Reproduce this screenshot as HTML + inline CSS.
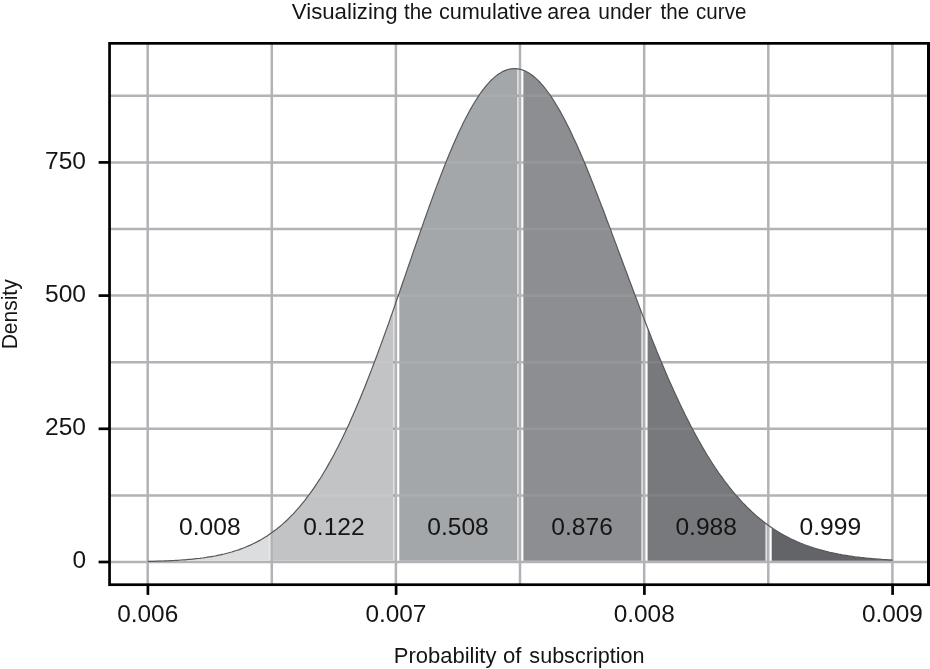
<!DOCTYPE html>
<html><head><meta charset="utf-8"><title>Cumulative area under the curve</title>
<style>
html,body{margin:0;padding:0;background:#fff;}
body{width:930px;height:669px;overflow:hidden;}
svg{display:block;}
text{font-family:"Liberation Sans",sans-serif;fill:#151515;}
</style></head><body>
<svg width="930" height="669" viewBox="0 0 930 669">
<defs><clipPath id="area"><path d="M147.7 560.7 L147.7 561.4 L150.2 561.4 L152.7 561.3 L155.2 561.3 L157.7 561.2 L160.2 561.1 L162.6 561.0 L165.1 560.9 L167.6 560.8 L170.1 560.7 L172.6 560.6 L175.1 560.4 L177.6 560.3 L180.1 560.1 L182.6 559.9 L185.1 559.8 L187.6 559.5 L190.0 559.3 L192.5 559.1 L195.0 558.8 L197.5 558.6 L200.0 558.3 L202.5 557.9 L205.0 557.6 L207.5 557.2 L210.0 556.8 L212.5 556.4 L214.9 556.0 L217.4 555.5 L219.9 555.0 L222.4 554.4 L224.9 553.8 L227.4 553.2 L229.9 552.5 L232.4 551.8 L234.9 551.0 L237.4 550.2 L239.9 549.3 L242.3 548.4 L244.8 547.5 L247.3 546.4 L249.8 545.3 L252.3 544.2 L254.8 543.0 L257.3 541.7 L259.8 540.3 L262.3 538.9 L264.8 537.4 L267.3 535.8 L269.7 534.1 L272.2 532.4 L274.7 530.6 L277.2 528.6 L279.7 526.6 L282.2 524.5 L284.7 522.3 L287.2 519.9 L289.7 517.5 L292.2 515.0 L294.6 512.3 L297.1 509.6 L299.6 506.7 L302.1 503.7 L304.6 500.6 L307.1 497.4 L309.6 494.1 L312.1 490.6 L314.6 487.0 L317.1 483.3 L319.6 479.4 L322.0 475.5 L324.5 471.3 L327.0 467.1 L329.5 462.7 L332.0 458.2 L334.5 453.6 L337.0 448.8 L339.5 443.9 L342.0 438.9 L344.5 433.7 L347.0 428.4 L349.4 423.0 L351.9 417.4 L354.4 411.8 L356.9 406.0 L359.4 400.1 L361.9 394.0 L364.4 387.9 L366.9 381.7 L369.4 375.3 L371.9 368.9 L374.3 362.3 L376.8 355.7 L379.3 349.0 L381.8 342.2 L384.3 335.3 L386.8 328.3 L389.3 321.3 L391.8 314.3 L394.3 307.2 L396.8 300.0 L399.3 292.8 L401.7 285.6 L404.2 278.4 L406.7 271.1 L409.2 263.9 L411.7 256.6 L414.2 249.4 L416.7 242.2 L419.2 235.0 L421.7 227.9 L424.2 220.8 L426.7 213.8 L429.1 206.8 L431.6 199.9 L434.1 193.1 L436.6 186.4 L439.1 179.8 L441.6 173.4 L444.1 167.0 L446.6 160.8 L449.1 154.7 L451.6 148.7 L454.0 142.9 L456.5 137.3 L459.0 131.9 L461.5 126.6 L464.0 121.5 L466.5 116.7 L469.0 112.0 L471.5 107.5 L474.0 103.3 L476.5 99.2 L479.0 95.4 L481.4 91.9 L483.9 88.6 L486.4 85.5 L488.9 82.6 L491.4 80.1 L493.9 77.7 L496.4 75.7 L498.9 73.9 L501.4 72.3 L503.9 71.0 L506.4 70.0 L508.8 69.3 L511.3 68.8 L513.8 68.6 L516.3 68.7 L518.8 69.0 L521.3 69.6 L523.8 70.5 L526.3 71.6 L528.8 73.0 L531.3 74.6 L533.7 76.5 L536.2 78.7 L538.7 81.1 L541.2 83.7 L543.7 86.6 L546.2 89.8 L548.7 93.1 L551.2 96.7 L553.7 100.5 L556.2 104.5 L558.7 108.7 L561.1 113.2 L563.6 117.8 L566.1 122.6 L568.6 127.5 L571.1 132.6 L573.6 137.9 L576.1 143.4 L578.6 149.0 L581.1 154.7 L583.6 160.5 L586.1 166.5 L588.5 172.6 L591.0 178.7 L593.5 185.0 L596.0 191.4 L598.5 197.8 L601.0 204.3 L603.5 210.8 L606.0 217.4 L608.5 224.0 L611.0 230.6 L613.4 237.3 L615.9 244.0 L618.4 250.7 L620.9 257.4 L623.4 264.1 L625.9 270.8 L628.4 277.5 L630.9 284.2 L633.4 290.9 L635.9 297.5 L638.4 304.0 L640.8 310.6 L643.3 317.1 L645.8 323.5 L648.3 329.9 L650.8 336.2 L653.3 342.4 L655.8 348.6 L658.3 354.7 L660.8 360.7 L663.3 366.6 L665.8 372.5 L668.2 378.2 L670.7 383.9 L673.2 389.5 L675.7 394.9 L678.2 400.3 L680.7 405.6 L683.2 410.7 L685.7 415.8 L688.2 420.8 L690.7 425.6 L693.1 430.4 L695.6 435.0 L698.1 439.5 L700.6 443.9 L703.1 448.3 L705.6 452.5 L708.1 456.6 L710.6 460.5 L713.1 464.4 L715.6 468.2 L718.1 471.9 L720.5 475.4 L723.0 478.9 L725.5 482.2 L728.0 485.5 L730.5 488.6 L733.0 491.7 L735.5 494.7 L738.0 497.5 L740.5 500.3 L743.0 502.9 L745.5 505.5 L747.9 508.0 L750.4 510.4 L752.9 512.7 L755.4 515.0 L757.9 517.1 L760.4 519.2 L762.9 521.2 L765.4 523.1 L767.9 524.9 L770.4 526.7 L772.8 528.4 L775.3 530.0 L777.8 531.6 L780.3 533.1 L782.8 534.5 L785.3 535.9 L787.8 537.2 L790.3 538.5 L792.8 539.7 L795.3 540.9 L797.8 542.0 L800.2 543.0 L802.7 544.0 L805.2 545.0 L807.7 545.9 L810.2 546.8 L812.7 547.6 L815.2 548.4 L817.7 549.1 L820.2 549.8 L822.7 550.5 L825.2 551.2 L827.6 551.8 L830.1 552.4 L832.6 552.9 L835.1 553.4 L837.6 553.9 L840.1 554.4 L842.6 554.9 L845.1 555.3 L847.6 555.7 L850.1 556.1 L852.5 556.4 L855.0 556.8 L857.5 557.1 L860.0 557.4 L862.5 557.7 L865.0 557.9 L867.5 558.2 L870.0 558.4 L872.5 558.7 L875.0 558.9 L877.5 559.1 L879.9 559.3 L882.4 559.4 L884.9 559.6 L887.4 559.8 L889.9 559.9 L892.4 560.0 L892.4 560.7 Z"/></clipPath></defs>
<rect width="930" height="669" fill="#fff"/>
<g stroke="#b2b3b6" stroke-width="2.5">
<line x1="147.7" y1="44" x2="147.7" y2="584" />
<line x1="271.8" y1="44" x2="271.8" y2="584" />
<line x1="395.9" y1="44" x2="395.9" y2="584" />
<line x1="520.0" y1="44" x2="520.0" y2="584" />
<line x1="644.2" y1="44" x2="644.2" y2="584" />
<line x1="768.3" y1="44" x2="768.3" y2="584" />
<line x1="892.4" y1="44" x2="892.4" y2="584" />
<line x1="110" y1="562.0" x2="928" y2="562.0" />
<line x1="110" y1="495.4" x2="928" y2="495.4" />
<line x1="110" y1="428.8" x2="928" y2="428.8" />
<line x1="110" y1="362.2" x2="928" y2="362.2" />
<line x1="110" y1="295.6" x2="928" y2="295.6" />
<line x1="110" y1="229.0" x2="928" y2="229.0" />
<line x1="110" y1="162.4" x2="928" y2="162.4" />
<line x1="110" y1="95.8" x2="928" y2="95.8" />
</g>
<path d="M147.7 560.7 L147.7 561.4 L149.2 561.4 L150.8 561.4 L152.3 561.3 L153.8 561.3 L155.4 561.2 L156.9 561.2 L158.4 561.2 L160.0 561.1 L161.5 561.0 L163.0 561.0 L164.6 560.9 L166.1 560.9 L167.6 560.8 L169.2 560.7 L170.7 560.7 L172.2 560.6 L173.8 560.5 L175.3 560.4 L176.8 560.3 L178.4 560.2 L179.9 560.1 L181.4 560.0 L183.0 559.9 L184.5 559.8 L186.0 559.7 L187.6 559.5 L189.1 559.4 L190.6 559.3 L192.2 559.1 L193.7 559.0 L195.2 558.8 L196.8 558.6 L198.3 558.5 L199.8 558.3 L201.4 558.1 L202.9 557.9 L204.4 557.7 L206.0 557.5 L207.5 557.2 L209.0 557.0 L210.6 556.7 L212.1 556.5 L213.6 556.2 L215.2 555.9 L216.7 555.6 L218.2 555.3 L219.8 555.0 L221.3 554.7 L222.8 554.3 L224.4 553.9 L225.9 553.6 L227.4 553.2 L229.0 552.8 L230.5 552.3 L232.0 551.9 L233.6 551.4 L235.1 550.9 L236.6 550.5 L238.2 549.9 L239.7 549.4 L241.2 548.8 L242.8 548.3 L244.3 547.7 L245.8 547.1 L247.4 546.4 L248.9 545.8 L250.4 545.1 L252.0 544.4 L253.5 543.6 L255.0 542.9 L256.6 542.1 L258.1 541.3 L259.6 540.4 L261.2 539.6 L262.7 538.7 L264.2 537.7 L265.8 536.8 L267.3 535.8 L268.8 534.8 L268.8 560.7 Z" fill="#dcddde"/>
<path d="M268.8 560.7 L268.8 534.8 L269.2 534.5 L269.6 534.3 L270.0 534.0 L270.3 533.7 L270.7 533.5 L270.7 560.7 Z" fill="#000" fill-opacity="0.09"/>
<path d="M272.9 560.7 L272.9 531.9 L274.4 530.8 L276.0 529.6 L277.5 528.4 L279.0 527.2 L280.5 525.9 L282.0 524.6 L283.6 523.3 L285.1 521.9 L286.6 520.5 L288.1 519.0 L289.6 517.5 L291.2 516.0 L292.7 514.4 L294.2 512.8 L295.7 511.2 L297.2 509.5 L298.8 507.7 L300.3 505.9 L301.8 504.1 L303.3 502.2 L304.8 500.3 L306.4 498.4 L307.9 496.4 L309.4 494.3 L310.9 492.2 L312.4 490.1 L314.0 487.9 L315.5 485.6 L317.0 483.4 L318.5 481.0 L320.1 478.6 L321.6 476.2 L323.1 473.7 L324.6 471.2 L326.1 468.6 L327.7 466.0 L329.2 463.3 L330.7 460.6 L332.2 457.8 L333.7 455.0 L335.3 452.1 L336.8 449.2 L338.3 446.2 L339.8 443.2 L341.3 440.2 L342.9 437.0 L344.4 433.9 L345.9 430.7 L347.4 427.4 L348.9 424.1 L350.5 420.7 L352.0 417.3 L353.5 413.9 L355.0 410.4 L356.5 406.8 L358.1 403.3 L359.6 399.6 L361.1 396.0 L362.6 392.3 L364.1 388.5 L365.7 384.7 L367.2 380.9 L368.7 377.0 L370.2 373.1 L371.7 369.2 L373.3 365.2 L374.8 361.2 L376.3 357.1 L377.8 353.0 L379.3 348.9 L380.9 344.8 L382.4 340.6 L383.9 336.4 L385.4 332.2 L387.0 327.9 L388.5 323.6 L390.0 319.3 L391.5 315.0 L393.0 310.7 L393.0 560.7 Z" fill="#c2c3c5"/>
<path d="M393.0 560.7 L393.0 310.7 L393.4 309.7 L393.8 308.6 L394.1 307.6 L394.5 306.6 L394.8 305.5 L394.8 560.7 Z" fill="#000" fill-opacity="0.12"/>
<path d="M399.3 560.7 L399.3 292.6 L400.8 288.3 L402.3 283.9 L403.8 279.6 L405.3 275.3 L406.8 270.9 L408.3 266.6 L409.8 262.2 L411.3 257.9 L412.8 253.6 L414.2 249.3 L415.7 244.9 L417.2 240.6 L418.7 236.3 L420.2 232.0 L421.7 227.8 L423.2 223.5 L424.7 219.3 L426.2 215.1 L427.7 210.9 L429.2 206.8 L430.7 202.6 L432.1 198.5 L433.6 194.5 L435.1 190.4 L436.6 186.4 L438.1 182.5 L439.6 178.5 L441.1 174.7 L442.6 170.8 L444.1 167.0 L445.6 163.3 L447.1 159.6 L448.5 155.9 L450.0 152.3 L451.5 148.8 L453.0 145.3 L454.5 141.9 L456.0 138.5 L457.5 135.2 L459.0 132.0 L460.5 128.8 L462.0 125.7 L463.5 122.6 L465.0 119.7 L466.4 116.8 L467.9 113.9 L469.4 111.2 L470.9 108.5 L472.4 105.9 L473.9 103.4 L475.4 100.9 L476.9 98.6 L478.4 96.3 L479.9 94.1 L481.4 92.0 L482.8 90.0 L484.3 88.0 L485.8 86.2 L487.3 84.4 L488.8 82.8 L490.3 81.2 L491.8 79.7 L493.3 78.3 L494.8 77.0 L496.3 75.8 L497.8 74.6 L499.3 73.6 L500.7 72.7 L502.2 71.8 L503.7 71.1 L505.2 70.5 L506.7 69.9 L508.2 69.5 L509.7 69.1 L511.2 68.8 L512.7 68.7 L514.2 68.6 L515.7 68.6 L517.1 68.8 L517.1 560.7 Z" fill="#a4a7aa"/>
<path d="M517.1 560.7 L517.1 68.8 L517.5 68.8 L517.9 68.9 L518.2 68.9 L518.6 69.0 L518.9 69.0 L518.9 560.7 Z" fill="#000" fill-opacity="0.12"/>
<path d="M523.4 560.7 L523.4 70.3 L524.9 70.9 L526.4 71.7 L527.9 72.5 L529.4 73.4 L530.9 74.4 L532.4 75.5 L533.9 76.6 L535.4 77.9 L536.9 79.3 L538.4 80.7 L539.9 82.3 L541.3 83.9 L542.8 85.6 L544.3 87.4 L545.8 89.3 L547.3 91.2 L548.8 93.3 L550.3 95.4 L551.8 97.6 L553.3 99.9 L554.8 102.3 L556.3 104.7 L557.8 107.2 L559.2 109.8 L560.7 112.4 L562.2 115.1 L563.7 117.9 L565.2 120.8 L566.7 123.7 L568.2 126.7 L569.7 129.7 L571.2 132.8 L572.7 135.9 L574.2 139.1 L575.6 142.4 L577.1 145.7 L578.6 149.1 L580.1 152.5 L581.6 155.9 L583.1 159.4 L584.6 163.0 L586.1 166.6 L587.6 170.2 L589.1 173.9 L590.6 177.6 L592.1 181.3 L593.5 185.1 L595.0 188.9 L596.5 192.7 L598.0 196.5 L599.5 200.4 L601.0 204.3 L602.5 208.2 L604.0 212.1 L605.5 216.0 L607.0 220.0 L608.5 223.9 L609.9 227.9 L611.4 231.9 L612.9 235.9 L614.4 239.9 L615.9 243.9 L617.4 247.9 L618.9 252.0 L620.4 256.0 L621.9 260.0 L623.4 264.0 L624.9 268.0 L626.4 272.1 L627.8 276.1 L629.3 280.1 L630.8 284.1 L632.3 288.0 L633.8 292.0 L635.3 296.0 L636.8 299.9 L638.3 303.9 L639.8 307.8 L641.3 311.7 L641.3 560.7 Z" fill="#8d8e92"/>
<path d="M641.3 560.7 L641.3 311.7 L641.6 312.6 L642.0 313.6 L642.3 314.5 L642.7 315.4 L643.1 316.4 L643.1 560.7 Z" fill="#000" fill-opacity="0.12"/>
<path d="M647.6 560.7 L647.6 328.0 L649.1 331.8 L650.5 335.5 L652.0 339.3 L653.5 343.0 L655.0 346.7 L656.5 350.4 L658.0 354.0 L659.5 357.6 L661.0 361.2 L662.5 364.8 L664.0 368.3 L665.5 371.8 L667.0 375.3 L668.4 378.7 L669.9 382.1 L671.4 385.4 L672.9 388.8 L674.4 392.1 L675.9 395.3 L677.4 398.6 L678.9 401.7 L680.4 404.9 L681.9 408.0 L683.4 411.1 L684.9 414.1 L686.3 417.1 L687.8 420.1 L689.3 423.0 L690.8 425.9 L692.3 428.8 L693.8 431.6 L695.3 434.3 L696.8 437.1 L698.3 439.8 L699.8 442.4 L701.3 445.0 L702.7 447.6 L704.2 450.2 L705.7 452.7 L707.2 455.1 L708.7 457.6 L710.2 459.9 L711.7 462.3 L713.2 464.6 L714.7 466.9 L716.2 469.1 L717.7 471.3 L719.2 473.4 L720.6 475.6 L722.1 477.6 L723.6 479.7 L725.1 481.7 L726.6 483.7 L728.1 485.6 L729.6 487.5 L731.1 489.4 L732.6 491.2 L734.1 493.0 L735.6 494.7 L737.0 496.5 L738.5 498.1 L740.0 499.8 L741.5 501.4 L743.0 503.0 L744.5 504.6 L746.0 506.1 L747.5 507.6 L749.0 509.0 L750.5 510.5 L752.0 511.9 L753.5 513.2 L754.9 514.6 L756.4 515.9 L757.9 517.1 L759.4 518.4 L760.9 519.6 L762.4 520.8 L763.9 522.0 L765.4 523.1 L765.4 560.7 Z" fill="#78797d"/>
<path d="M765.4 560.7 L765.4 523.1 L765.7 523.4 L766.1 523.6 L766.5 523.9 L766.8 524.2 L767.2 524.4 L767.2 560.7 Z" fill="#000" fill-opacity="0.12"/>
<path d="M771.7 560.7 L771.7 527.6 L773.2 528.7 L774.7 529.7 L776.3 530.6 L777.8 531.6 L779.3 532.5 L780.9 533.4 L782.4 534.3 L783.9 535.2 L785.4 536.0 L787.0 536.8 L788.5 537.6 L790.0 538.4 L791.5 539.1 L793.1 539.8 L794.6 540.6 L796.1 541.2 L797.7 541.9 L799.2 542.6 L800.7 543.2 L802.2 543.8 L803.8 544.4 L805.3 545.0 L806.8 545.6 L808.4 546.1 L809.9 546.6 L811.4 547.2 L812.9 547.7 L814.5 548.2 L816.0 548.6 L817.5 549.1 L819.1 549.5 L820.6 550.0 L822.1 550.4 L823.6 550.8 L825.2 551.2 L826.7 551.6 L828.2 551.9 L829.7 552.3 L831.3 552.6 L832.8 553.0 L834.3 553.3 L835.9 553.6 L837.4 553.9 L838.9 554.2 L840.4 554.5 L842.0 554.8 L843.5 555.0 L845.0 555.3 L846.6 555.5 L848.1 555.8 L849.6 556.0 L851.1 556.2 L852.7 556.4 L854.2 556.6 L855.7 556.9 L857.3 557.0 L858.8 557.2 L860.3 557.4 L861.8 557.6 L863.4 557.8 L864.9 557.9 L866.4 558.1 L868.0 558.2 L869.5 558.4 L871.0 558.5 L872.5 558.7 L874.1 558.8 L875.6 558.9 L877.1 559.0 L878.6 559.2 L880.2 559.3 L881.7 559.4 L883.2 559.5 L884.8 559.6 L886.3 559.7 L887.8 559.8 L889.3 559.9 L890.9 560.0 L892.4 560.0 L892.4 560.7 Z" fill="#636468"/>
<g stroke="#fff" stroke-opacity="0.07" stroke-width="2.6" clip-path="url(#area)">
<line x1="110" y1="495.4" x2="928" y2="495.4" />
<line x1="110" y1="428.8" x2="928" y2="428.8" />
<line x1="110" y1="362.2" x2="928" y2="362.2" />
<line x1="110" y1="295.6" x2="928" y2="295.6" />
<line x1="110" y1="229.0" x2="928" y2="229.0" />
<line x1="110" y1="162.4" x2="928" y2="162.4" />
<line x1="110" y1="95.8" x2="928" y2="95.8" />
</g>
<path d="M147.7 561.4 L149.6 561.4 L151.4 561.4 L153.3 561.3 L155.2 561.3 L157.0 561.2 L158.9 561.1 L160.8 561.1 L162.6 561.0 L164.5 560.9 L166.4 560.9 L168.2 560.8 L170.1 560.7 L172.0 560.6 L173.8 560.5 L175.7 560.4 L177.6 560.3 L179.4 560.2 L181.3 560.0 L183.2 559.9 L185.0 559.8 L186.9 559.6 L188.8 559.4 L190.6 559.3 L192.5 559.1 L194.4 558.9 L196.2 558.7 L198.1 558.5 L200.0 558.3 L201.8 558.0 L203.7 557.8 L205.6 557.5 L207.4 557.2 L209.3 556.9 L211.2 556.6 L213.0 556.3 L214.9 556.0 L216.8 555.6 L218.6 555.2 L220.5 554.8 L222.4 554.4 L224.2 554.0 L226.1 553.5 L228.0 553.0 L229.8 552.5 L231.7 552.0 L233.6 551.4 L235.4 550.8 L237.3 550.2 L239.2 549.6 L241.0 548.9 L242.9 548.2 L244.8 547.5 L246.6 546.7 L248.5 545.9 L250.4 545.1 L252.2 544.2 L254.1 543.3 L256.0 542.4 L257.8 541.4 L259.7 540.4 L261.6 539.3 L263.4 538.2 L265.3 537.1 L267.2 535.9 L269.0 534.6 L270.9 533.3 L272.7 532.0 L274.6 530.6 L276.5 529.2 L278.3 527.7 L280.2 526.2 L282.1 524.6 L283.9 522.9 L285.8 521.2 L287.7 519.5 L289.5 517.6 L291.4 515.7 L293.3 513.8 L295.1 511.8 L297.0 509.7 L298.9 507.6 L300.7 505.4 L302.6 503.1 L304.5 500.8 L306.3 498.4 L308.2 495.9 L310.1 493.4 L311.9 490.8 L313.8 488.1 L315.7 485.4 L317.5 482.5 L319.4 479.7 L321.3 476.7 L323.1 473.7 L325.0 470.5 L326.9 467.4 L328.7 464.1 L330.6 460.8 L332.5 457.4 L334.3 453.9 L336.2 450.3 L338.1 446.7 L339.9 443.0 L341.8 439.2 L343.7 435.3 L345.5 431.4 L347.4 427.4 L349.3 423.4 L351.1 419.2 L353.0 415.0 L354.9 410.7 L356.7 406.4 L358.6 402.0 L360.5 397.5 L362.3 393.0 L364.2 388.4 L366.1 383.7 L367.9 379.0 L369.8 374.2 L371.7 369.4 L373.5 364.5 L375.4 359.5 L377.3 354.5 L379.1 349.5 L381.0 344.4 L382.9 339.3 L384.7 334.1 L386.6 328.9 L388.5 323.7 L390.3 318.4 L392.2 313.1 L394.1 307.7 L395.9 302.4 L397.8 297.0 L399.7 291.6 L401.5 286.2 L403.4 280.8 L405.3 275.4 L407.1 269.9 L409.0 264.5 L410.9 259.1 L412.7 253.6 L414.6 248.2 L416.5 242.8 L418.3 237.5 L420.2 232.1 L422.1 226.8 L423.9 221.4 L425.8 216.2 L427.7 210.9 L429.5 205.7 L431.4 200.6 L433.3 195.5 L435.1 190.4 L437.0 185.4 L438.9 180.5 L440.7 175.6 L442.6 170.8 L444.5 166.0 L446.3 161.4 L448.2 156.8 L450.1 152.3 L451.9 147.9 L453.8 143.5 L455.7 139.3 L457.5 135.2 L459.4 131.1 L461.3 127.2 L463.1 123.3 L465.0 119.6 L466.9 116.0 L468.7 112.5 L470.6 109.1 L472.5 105.8 L474.3 102.7 L476.2 99.7 L478.1 96.8 L479.9 94.0 L481.8 91.4 L483.7 88.9 L485.5 86.6 L487.4 84.4 L489.3 82.3 L491.1 80.3 L493.0 78.6 L494.9 76.9 L496.7 75.4 L498.6 74.1 L500.5 72.9 L502.3 71.8 L504.2 70.9 L506.1 70.1 L507.9 69.5 L509.8 69.1 L511.7 68.8 L513.5 68.6 L515.4 68.6 L517.3 68.8 L519.1 69.1 L521.0 69.5 L522.8 70.1 L524.7 70.8 L526.6 71.7 L528.4 72.8 L530.3 74.0 L532.2 75.3 L534.0 76.8 L535.9 78.4 L537.8 80.1 L539.6 82.0 L541.5 84.1 L543.4 86.2 L545.2 88.5 L547.1 91.0 L549.0 93.5 L550.8 96.2 L552.7 99.0 L554.6 102.0 L556.4 105.0 L558.3 108.2 L560.2 111.4 L562.0 114.8 L563.9 118.3 L565.8 121.9 L567.6 125.6 L569.5 129.3 L571.4 133.2 L573.2 137.2 L575.1 141.2 L577.0 145.3 L578.8 149.6 L580.7 153.8 L582.6 158.2 L584.4 162.6 L586.3 167.1 L588.2 171.7 L590.0 176.3 L591.9 180.9 L593.8 185.7 L595.6 190.4 L597.5 195.2 L599.4 200.1 L601.2 204.9 L603.1 209.8 L605.0 214.7 L606.8 219.7 L608.7 224.6 L610.6 229.6 L612.4 234.6 L614.3 239.6 L616.2 244.6 L618.0 249.6 L619.9 254.7 L621.8 259.7 L623.6 264.7 L625.5 269.8 L627.4 274.8 L629.2 279.8 L631.1 284.8 L633.0 289.8 L634.8 294.7 L636.7 299.7 L638.6 304.6 L640.4 309.5 L642.3 314.4 L644.2 319.2 L646.0 324.0 L647.9 328.8 L649.8 333.5 L651.6 338.3 L653.5 342.9 L655.4 347.5 L657.2 352.1 L659.1 356.7 L661.0 361.2 L662.8 365.6 L664.7 370.0 L666.6 374.4 L668.4 378.7 L670.3 382.9 L672.2 387.1 L674.0 391.2 L675.9 395.3 L677.8 399.3 L679.6 403.3 L681.5 407.2 L683.4 411.1 L685.2 414.9 L687.1 418.6 L689.0 422.3 L690.8 425.9 L692.7 429.5 L694.6 433.0 L696.4 436.4 L698.3 439.8 L700.2 443.1 L702.0 446.4 L703.9 449.6 L705.8 452.7 L707.6 455.8 L709.5 458.8 L711.4 461.8 L713.2 464.7 L715.1 467.5 L717.0 470.3 L718.8 473.0 L720.7 475.6 L722.6 478.2 L724.4 480.8 L726.3 483.2 L728.2 485.7 L730.0 488.0 L731.9 490.3 L733.8 492.6 L735.6 494.8 L737.5 497.0 L739.4 499.0 L741.2 501.1 L743.1 503.1 L745.0 505.0 L746.8 506.9 L748.7 508.7 L750.6 510.5 L752.4 512.3 L754.3 514.0 L756.2 515.6 L758.0 517.2 L759.9 518.8 L761.8 520.3 L763.6 521.8 L765.5 523.2 L767.4 524.6 L769.2 525.9 L771.1 527.2 L772.9 528.5 L774.8 529.7 L776.7 530.9 L778.5 532.0 L780.4 533.2 L782.3 534.2 L784.1 535.3 L786.0 536.3 L787.9 537.3 L789.7 538.2 L791.6 539.2 L793.5 540.0 L795.3 540.9 L797.2 541.7 L799.1 542.5 L800.9 543.3 L802.8 544.0 L804.7 544.8 L806.5 545.5 L808.4 546.1 L810.3 546.8 L812.1 547.4 L814.0 548.0 L815.9 548.6 L817.7 549.1 L819.6 549.7 L821.5 550.2 L823.3 550.7 L825.2 551.2 L827.1 551.6 L828.9 552.1 L830.8 552.5 L832.7 552.9 L834.5 553.3 L836.4 553.7 L838.3 554.1 L840.1 554.4 L842.0 554.8 L843.9 555.1 L845.7 555.4 L847.6 555.7 L849.5 556.0 L851.3 556.2 L853.2 556.5 L855.1 556.8 L856.9 557.0 L858.8 557.2 L860.7 557.5 L862.5 557.7 L864.4 557.9 L866.3 558.1 L868.1 558.3 L870.0 558.4 L871.9 558.6 L873.7 558.8 L875.6 558.9 L877.5 559.1 L879.3 559.2 L881.2 559.3 L883.1 559.5 L884.9 559.6 L886.8 559.7 L888.7 559.8 L890.5 559.9 L892.4 560.0" fill="none" stroke="#58585b" stroke-width="1.2"/>
<rect x="109.55" y="43.35" width="819.1" height="541.35" fill="none" stroke="#000" stroke-width="2.7"/>
<rect x="927" y="42" width="3" height="544.05" fill="#000"/>
<g stroke="#000" stroke-width="2.7">
<line x1="147.9" y1="585" x2="147.9" y2="594.9" />
<line x1="396.1" y1="585" x2="396.1" y2="594.9" />
<line x1="644.4" y1="585" x2="644.4" y2="594.9" />
<line x1="892.6" y1="585" x2="892.6" y2="594.9" />
<line x1="98.6" y1="562.0" x2="109" y2="562.0" />
<line x1="98.6" y1="428.8" x2="109" y2="428.8" />
<line x1="98.6" y1="295.6" x2="109" y2="295.6" />
<line x1="98.6" y1="162.4" x2="109" y2="162.4" />
</g>
<g font-size="23.5">
<text x="147.7" y="622" text-anchor="middle" textLength="61" lengthAdjust="spacingAndGlyphs">0.006</text>
<text x="395.9" y="622" text-anchor="middle" textLength="61" lengthAdjust="spacingAndGlyphs">0.007</text>
<text x="644.2" y="622" text-anchor="middle" textLength="61" lengthAdjust="spacingAndGlyphs">0.008</text>
<text x="892.4" y="622" text-anchor="middle" textLength="61" lengthAdjust="spacingAndGlyphs">0.009</text>
<text x="86" y="568.3" text-anchor="end" textLength="13.6" lengthAdjust="spacingAndGlyphs">0</text>
<text x="86" y="435.1" text-anchor="end" textLength="41" lengthAdjust="spacingAndGlyphs">250</text>
<text x="86" y="301.9" text-anchor="end" textLength="41" lengthAdjust="spacingAndGlyphs">500</text>
<text x="86" y="168.7" text-anchor="end" textLength="41" lengthAdjust="spacingAndGlyphs">750</text>
<text x="209.8" y="534.8" font-size="24.5" text-anchor="middle" textLength="61.5" lengthAdjust="spacingAndGlyphs">0.008</text>
<text x="333.9" y="534.8" font-size="24.5" text-anchor="middle" textLength="61.5" lengthAdjust="spacingAndGlyphs">0.122</text>
<text x="458.0" y="534.8" font-size="24.5" text-anchor="middle" textLength="61.5" lengthAdjust="spacingAndGlyphs">0.508</text>
<text x="582.1" y="534.8" font-size="24.5" text-anchor="middle" textLength="61.5" lengthAdjust="spacingAndGlyphs">0.876</text>
<text x="706.2" y="534.8" font-size="24.5" text-anchor="middle" textLength="61.5" lengthAdjust="spacingAndGlyphs">0.988</text>
<text x="830.3" y="534.8" font-size="24.5" text-anchor="middle" textLength="61.5" lengthAdjust="spacingAndGlyphs">0.999</text>
</g>
<text y="18.6" font-size="22"><tspan x="291.79" textLength="105.81" lengthAdjust="spacingAndGlyphs">Visualizing</tspan> <tspan x="403.97" textLength="28.57" lengthAdjust="spacingAndGlyphs">the</tspan> <tspan x="438.91" textLength="103.58" lengthAdjust="spacingAndGlyphs">cumulative</tspan> <tspan x="547.25" textLength="43.02" lengthAdjust="spacingAndGlyphs">area</tspan> <tspan x="598.26" textLength="53.57" lengthAdjust="spacingAndGlyphs">under</tspan> <tspan x="660.62" textLength="28.52" lengthAdjust="spacingAndGlyphs">the</tspan> <tspan x="696.11" textLength="50.20" lengthAdjust="spacingAndGlyphs">curve</tspan></text>
<text y="662.7" font-size="22"><tspan x="393.80" textLength="102.65" lengthAdjust="spacingAndGlyphs">Probability</tspan> <tspan x="502.98" textLength="18.41" lengthAdjust="spacingAndGlyphs">of</tspan> <tspan x="529.35" textLength="115.10" lengthAdjust="spacingAndGlyphs">subscription</tspan></text>
<text transform="translate(17.3,314.3) rotate(-90)" font-size="22" text-anchor="middle" textLength="70" lengthAdjust="spacingAndGlyphs">Density</text>
</svg>
</body></html>
